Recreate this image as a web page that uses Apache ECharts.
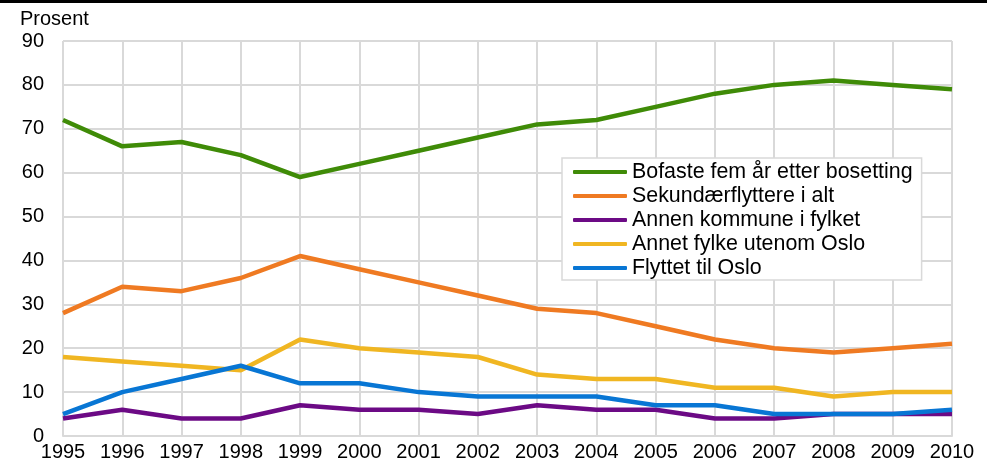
<!DOCTYPE html>
<html>
<head>
<meta charset="utf-8">
<script src="https://cdn.jsdelivr.net/npm/echarts@6/dist/echarts.min.js"></script>
<style>
  html, body { margin: 0; padding: 0; background: #fff; }
  #main { width: 987px; height: 468px; }
</style>
</head>
<body>
<div id="main"></div>
<script>
// årstall og verdier (prosent)
var years = ['1995', '1996', '1997', '1998', '1999', '2000', '2001', '2002',
  '2003', '2004', '2005', '2006', '2007', '2008', '2009', '2010'];
var bofaste = [72, 66, 67, 64, 59, 62, 65, 68, 71, 72, 75, 78, 80, 81, 80, 79];
var sekundaer = [28, 34, 33, 36, 41, 38, 35, 32, 29, 28, 25, 22, 20, 19, 20, 21];
var annenKommune = [4, 6, 4, 4, 7, 6, 6, 5, 7, 6, 6, 4, 4, 5, 5, 5];
var annetFylke = [18, 17, 16, 15, 22, 20, 19, 18, 14, 13, 13, 11, 11, 9, 10, 10];
var flyttetOslo = [5, 10, 13, 16, 12, 12, 10, 9, 9, 9, 7, 7, 5, 5, 5, 6];
var yTicks = [0, 10, 20, 30, 40, 50, 60, 70, 80, 90];

var font = '"Liberation Sans", Arial, sans-serif';

function line(name, data, color) {
  return {
    name: name,
    type: 'line',
    data: data,
    symbol: 'none',
    lineStyle: { color: color, width: 4.5 },
    itemStyle: { color: color }
  };
}

var chart = echarts.init(document.getElementById('main'));
chart.setOption({
  animation: false,
  graphic: [{
    type: 'rect',
    shape: { x: 0, y: 0, width: 987, height: 3 },
    style: { fill: '#000' }
  }, {
    type: 'text',
    left: 20,
    top: 9,
    style: { text: 'Prosent', font: '20px ' + font, fill: '#000' }
  }],
  grid: { left: 63, right: 35, top: 41, bottom: 32 },
  legend: {
    orient: 'vertical',
    left: 562,
    top: 158,
    padding: [2, 9, 0, 11],
    itemGap: 0,
    itemWidth: 54,
    itemHeight: 4,
    borderColor: '#d9d9d9',
    borderWidth: 1.5,
    backgroundColor: '#fff',
    icon: 'roundRect',
    textStyle: { fontFamily: font, fontSize: 21.4, lineHeight: 24, color: '#000' },
    data: ['Bofaste fem år etter bosetting', 'Sekundærflyttere i alt',
      'Annen kommune i fylket', 'Annet fylke utenom Oslo', 'Flyttet til Oslo']
  },
  xAxis: {
    type: 'category',
    boundaryGap: false,
    data: years,
    axisLine: { lineStyle: { color: '#d9d9d9', width: 2 } },
    axisTick: { show: false },
    splitLine: { show: true, lineStyle: { color: '#d9d9d9', width: 2 } },
    axisLabel: { color: '#000', fontFamily: font, fontSize: 20, margin: 6, interval: 0 }
  },
  yAxis: {
    type: 'value',
    min: yTicks[0],
    max: yTicks[yTicks.length - 1],
    interval: 10,
    axisLine: { show: false },
    axisTick: { show: false },
    splitLine: { lineStyle: { color: '#d9d9d9', width: 2 } },
    axisLabel: { color: '#000', fontFamily: font, fontSize: 20, margin: 19 }
  },
  series: [
    line('Bofaste fem år etter bosetting', bofaste, '#3f8b07'),
    line('Sekundærflyttere i alt', sekundaer, '#ef7a22'),
    line('Annen kommune i fylket', annenKommune, '#6c0a85'),
    line('Annet fylke utenom Oslo', annetFylke, '#f0b622'),
    line('Flyttet til Oslo', flyttetOslo, '#0876d4')
  ]
});
</script>
</body>
</html>
